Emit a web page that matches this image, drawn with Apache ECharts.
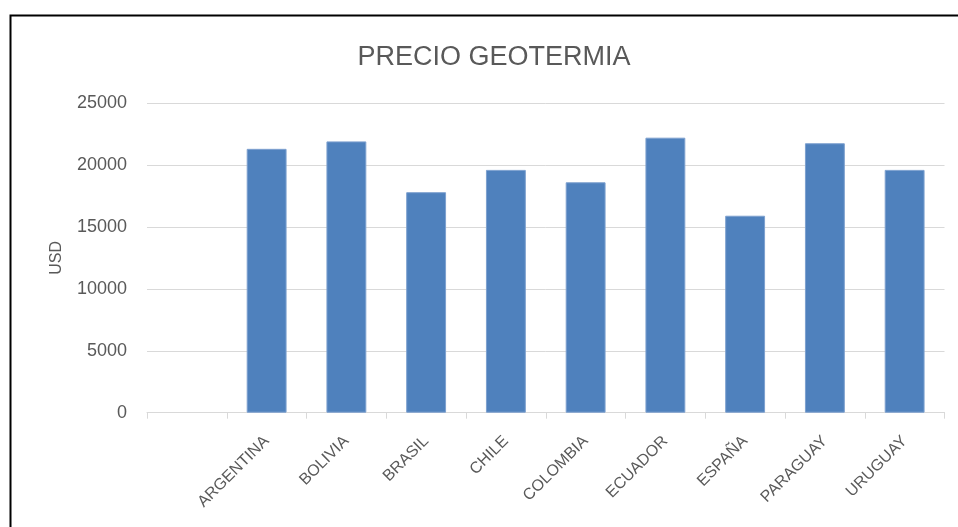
<!DOCTYPE html>
<html>
<head>
<meta charset="utf-8">
<script src="https://cdn.jsdelivr.net/npm/echarts@6/dist/echarts.min.js"></script>
<style>
html,body{margin:0;padding:0;background:#fff;}
#chart{width:958px;height:527px;}
</style>
</head>
<body>
<div id="chart"></div>
<script>
var titleText = "PRECIO GEOTERMIA";
var yAxisName = "USD";
var categories = ["", "ARGENTINA", "BOLIVIA", "BRASIL", "CHILE", "COLOMBIA", "ECUADOR", "ESPAÑA", "PARAGUAY", "URUGUAY"];
var values = [null, 21300, 21900, 17800, 19600, 18600, 22200, 15900, 21750, 19600];
var yTicks = [0, 5000, 10000, 15000, 20000, 25000];

var FONT = "'Liberation Sans Narrow', 'Liberation Sans', sans-serif";
var chart = echarts.init(document.getElementById('chart'), null, {renderer: 'canvas'});
chart.setOption({
  backgroundColor: '#ffffff',
  animation: false,
  title: {
    text: titleText,
    left: 489, top: 39, textAlign: 'center',
    textStyle: {fontFamily: FONT, fontSize: 27, fontWeight: 'normal', color: '#595959'}
  },
  graphic: [{
    type: 'rect', left: 8, top: 13, silent: true,
    shape: {x: 0, y: 0, width: 1000, height: 1000},
    style: {fill: 'none', stroke: '#000', lineWidth: 2}
  }],
  grid: {left: 147, right: 13.5, top: 103, bottom: 114.3, containLabel: false},
  xAxis: {
    type: 'category',
    data: categories,
    axisLine: {show: true, lineStyle: {color: '#d9d9d9', width: 1}},
    axisTick: {show: true, length: 6, alignWithLabel: false, lineStyle: {color: '#d9d9d9'}},
    axisLabel: {rotate: 45, interval: 0, color: '#595959', fontFamily: FONT, fontSize: 16, margin: 26}
  },
  yAxis: {
    type: 'value',
    min: yTicks[0], max: yTicks[yTicks.length - 1], interval: yTicks[1] - yTicks[0],
    name: yAxisName, nameLocation: 'middle', nameGap: 82, nameRotate: 90,
    nameTextStyle: {color: '#595959', fontFamily: FONT, fontSize: 16},
    axisLine: {show: false}, axisTick: {show: false},
    axisLabel: {color: '#595959', fontFamily: FONT, fontSize: 18, margin: 20,
      formatter: function (v) { return String(v); }},
    splitLine: {lineStyle: {color: '#d9d9d9', width: 1}}
  },
  series: [{
    type: 'bar',
    data: values,
    barWidth: '50%',
    itemStyle: {color: '#4f81bd', borderColor: '#7da0cf', borderWidth: 1}
  }]
});
</script>
</body>
</html>
